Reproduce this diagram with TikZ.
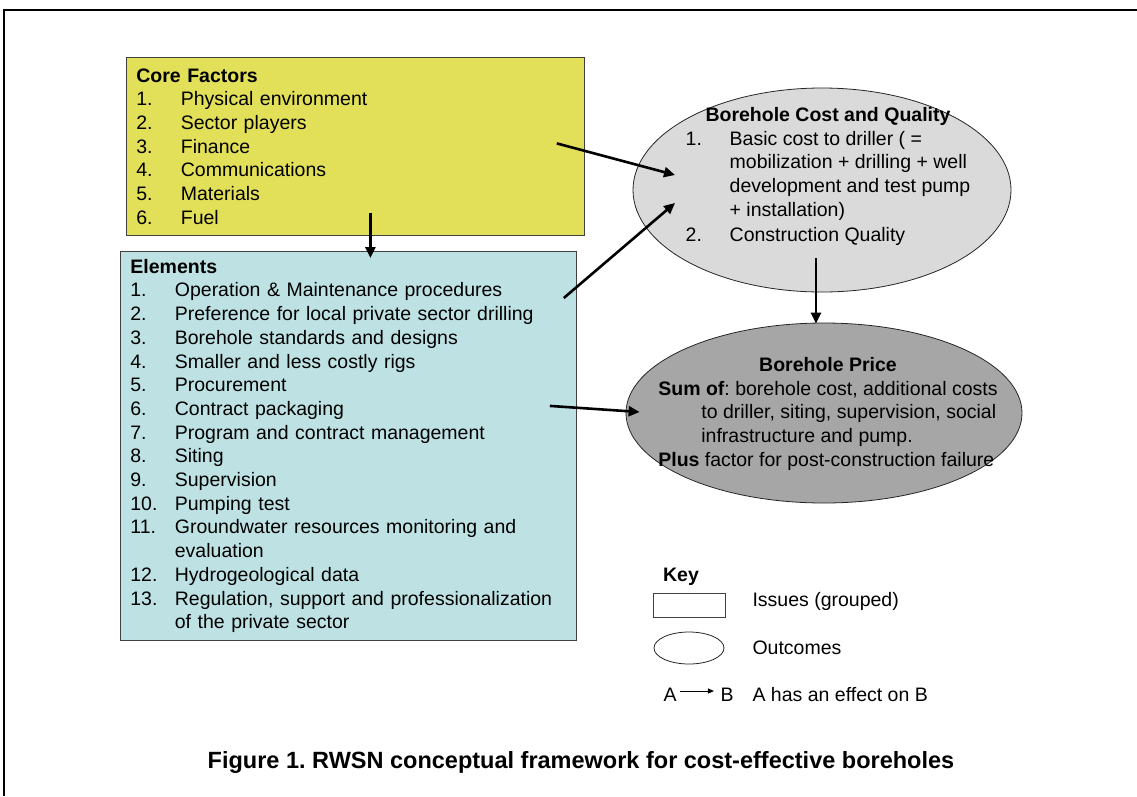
\documentclass[tikz,border=0pt]{standalone}
\usepackage{fontspec}
\setmainfont{Liberation Sans}
\usetikzlibrary{arrows.meta,shapes.geometric,positioning}
\frenchspacing

\definecolor{coreyellow}{RGB}{226,224,88}
\definecolor{elemblue}{RGB}{190,226,228}
\definecolor{costgray}{RGB}{218,218,218}
\definecolor{pricegray}{RGB}{166,166,166}
\newcommand\itm[1]{\makebox[44.5pt][l]{#1}}

\begin{document}
\begin{tikzpicture}[x=1pt, y=-1pt, font=\fontsize{19.5}{23.7}\selectfont,
    box/.style = {draw=black!75, line width=0.8pt, anchor=north west, align=left, inner xsep=10pt, inner ysep=0pt},
    outcome/.style = {draw=black!85, ellipse, line width=0.8pt, inner sep=0pt},
    effect/.style = {-{Triangle[length=11pt,width=10pt]}, line width=2.6pt}]
    \useasboundingbox (0,0) rectangle (1137,796);
    \draw[line width=2pt] (4,796) -- (4,10) -- (1137,10);

    \node[box, fill=coreyellow, text width=438pt, minimum height=178pt] (core) at (126,57)
        {\textbf{Core Factors}\\
         \itm{1.}Physical environment\\
         \itm{2.}Sector players\\
         \itm{3.}Finance\\
         \itm{4.}Communications\\
         \itm{5.}Materials\\
         \itm{6.}Fuel};

    \node[box, fill=elemblue, text width=436pt, minimum height=389pt] (elements) at (120,251)
        {\textbf{Elements}\\
         \itm{1.}Operation \& Maintenance procedures\\
         \itm{2.}Preference for local private sector drilling\\
         \itm{3.}Borehole standards and designs\\
         \itm{4.}Smaller and less costly rigs\\
         \itm{5.}Procurement\\
         \itm{6.}Contract packaging\\
         \itm{7.}Program and contract management\\
         \itm{8.}Siting\\
         \itm{9.}Supervision\\
         \itm{10.}Pumping test\\
         \itm{11.}Groundwater resources monitoring and\\
         \itm{}evaluation\\
         \itm{12.}Hydrogeological data\\
         \itm{13.}Regulation, support and professionalization\\
         \itm{}of the private sector};

    \node[outcome, fill=costgray, minimum width=378pt, minimum height=204pt] (cost) at (822,190) {};
    \node (costtxt) at (828,177)
        {\begin{tabular}{@{}p{44pt}@{}l@{}}
         \multicolumn{2}{c}{\textbf{Borehole Cost and Quality}}\\
         1. & Basic cost to driller ( =\\
            & mobilization + drilling + well\\
            & development and test pump\\
            & + installation)\\[2pt]
         2. & Construction Quality
         \end{tabular}};

    \node[outcome, fill=pricegray, minimum width=396pt, minimum height=180pt] (price) at (824,413) {};
    \node (pricetxt) at (828,414)
        {\begin{tabular}{@{}l@{}}
         \multicolumn{1}{@{}c@{}}{\textbf{Borehole Price}}\\
         \textbf{Sum of}: borehole cost, additional costs\\
         \hspace*{43pt}to driller, siting, supervision, social\\
         \hspace*{43pt}infrastructure and pump.\\
         \textbf{Plus} factor for post-construction failure
         \end{tabular}};

    \draw[effect] ([shift={(-28,-3)}]core.east) -- ([shift={(-147,-15)}]cost.center);
    \draw[effect] ([shift={(-13,47)}]elements.north east) -- ([shift={(-147,13)}]cost.center);
    \draw[effect] ([shift={(15,-23)}]core.south) -- ([shift={(22,7)}]elements.north);
    \draw[effect] ([shift={(-6,-34)}]cost.south) -- ([shift={(-8,1)}]price.north);
    \draw[effect] ([shift={(-27,-40)}]elements.east) -- ([shift={(14,-1)}]price.west);

    % key
    \node[font=\bfseries\fontsize{19.5}{23.7}\selectfont] (key) at (681,577) {Key};
    \node[draw=black!75, line width=0.8pt, minimum width=72pt, minimum height=24pt] (keybox) at (689,605) {};
    \node[outcome, minimum width=70pt, minimum height=32pt] (keyell) at (689,648) {};
    \node[anchor=west] (keyissue) at (749,601) {Issues (grouped)};
    \node[anchor=west] (keyout) at (749,648) {Outcomes};
    \node (keya) at (670,695) {A};
    \node (keyb) at (727,695) {B};
    \draw[-{Triangle[length=6pt,width=5pt]}, line width=1pt, shorten >=3pt] ([yshift=4]keya.east) -- ([yshift=4]keyb.west);
    \node[anchor=west] (keyeff) at (749,695) {A has an effect on B};

    \node[font=\bfseries\fontsize{23.5}{26}\selectfont] (caption) at (581,762)
        {Figure 1. RWSN conceptual framework for cost-effective boreholes};
\end{tikzpicture}
\end{document}
